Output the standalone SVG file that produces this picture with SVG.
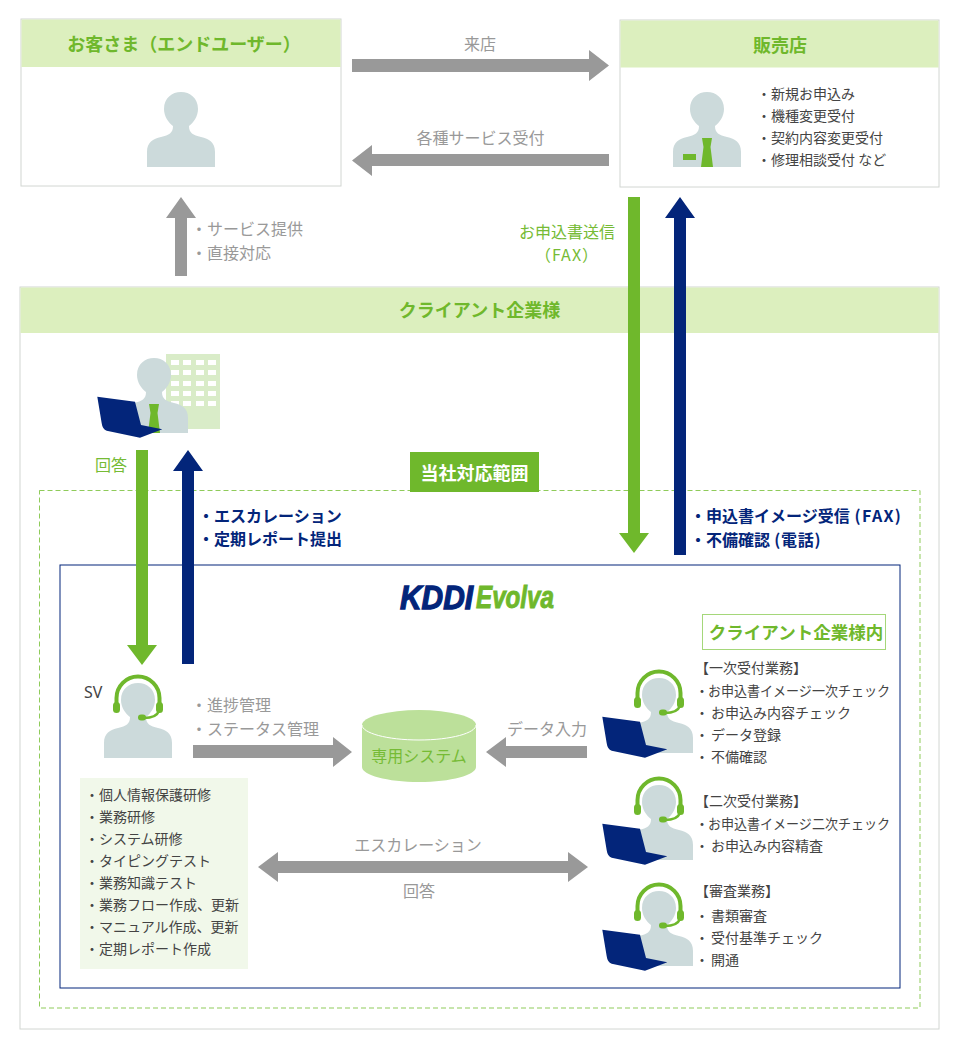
<svg xmlns="http://www.w3.org/2000/svg" width="960" height="1049" viewBox="0 0 960 1049">
<style>
text{font-family:"Noto Sans CJK JP","Noto Sans",sans-serif;dominant-baseline:central;font-size:14px;fill:#444;transform:translateY(-1px)}
.c{text-anchor:middle}
.h{font-size:18px;font-weight:700;fill:#6fb82c}
.l{font-size:16px;fill:#999}
.g{font-size:16px;fill:#76bb35}
.n{font-size:16px;font-weight:700;fill:#03257a}
.box{fill:#fff;stroke:#d2d6d2;stroke-width:1}
.head{fill:#dcefbe}
.gray{fill:#999}.green{fill:#6fb82c}.navy{fill:#03257a}
.body{fill:#ccdadb}
.hs{fill:none;stroke:#6fb82c;stroke-width:4}
</style>
<defs>
<path id="body" class="body" d="M-34 75V60C-34 50-28 47-20 45C-12 43-8 41-8 34C-13 30-17 24-17 17C-17 6-9 0 0 0C9 0 17 6 17 17C17 24 13 30 8 34C8 41 12 43 20 45C28 47 34 50 34 60V75Z"/>
<path id="tie" class="green" d="M-5 46H5L3.500 55L6 75H-6L-3.500 55Z"/>
<g id="headset">
<path class="hs" d="M-21.500 21V15A21.500 21.500 0 0 1 21.500 15V21"/>
<rect class="green" x="-25" y="19" width="7" height="11" rx="3.500"/>
<rect class="green" x="18" y="19" width="7" height="11" rx="3.500"/>
<path class="hs" style="stroke-width:2.500" d="M21 28C19 33 13 35 6 35"/>
<rect class="green" x="0" y="31.500" width="8" height="6" rx="3"/>
</g>
<path id="laptop" class="navy" d="M-56.700 38.700L-19 43.700L-13 67L8.300 71.300L-14 79.700L-47.300 72.700Q-51.500 71.500-52.300 65.300Z"/>
<g id="agent"><use href="#body"/><use href="#headset"/><use href="#laptop"/></g>
</defs>

<g id="customer">
<rect class="box" x="21" y="19" width="320" height="167"/>
<rect class="head" x="21.500" y="19.500" width="319" height="47.500"/>
<text class="h c" x="184" y="44">お客さま（エンドユーザー）</text>
<use href="#body" x="181" y="92"/>
</g>

<g id="store">
<rect class="box" x="620" y="20" width="319" height="167"/>
<rect class="head" x="620.500" y="20.500" width="318" height="47"/>
<text class="h c" x="780" y="45">販売店</text>
<use href="#body" x="707" y="92"/>
<use href="#tie" x="707" y="92"/>
<rect class="green" x="683" y="154" width="13" height="6"/>
<text x="757" y="94">・新規お申込み</text>
<text x="757" y="116">・機種変更受付</text>
<text x="757" y="138">・契約内容変更受付</text>
<text x="757" y="160">・修理相談受付 など</text>
</g>

<g id="client">
<rect class="box" x="20" y="287" width="919" height="742"/>
<rect class="head" x="20.500" y="287.500" width="918" height="45.500"/>
<text class="h c" x="479.500" y="310">クライアント企業様</text>
</g>

<g id="client-person">
<rect x="166" y="354" width="54" height="75" fill="#d9ecc8"/>
<path fill="#fff" d="M171 360h8v5h-8zM183 360h8v5h-8zM196 360h8v5h-8zM208 360h8v5h-8zM171 370h8v5h-8zM183 370h8v5h-8zM196 370h8v5h-8zM208 370h8v5h-8zM171 381h8v5h-8zM183 381h8v5h-8zM196 381h8v5h-8zM208 381h8v5h-8zM171 391h8v5h-8zM183 391h8v5h-8zM196 391h8v5h-8zM208 391h8v5h-8zM171 401h8v5h-8zM183 401h8v5h-8zM196 401h8v5h-8zM208 401h8v5h-8z"/>
<use href="#body" x="154" y="358"/>
<use href="#tie" x="154" y="358"/>
<use href="#laptop" x="154" y="358"/>
</g>

<g id="scope">
<rect x="39.500" y="490.500" width="880.500" height="517.500" fill="none" stroke="#8fcb5a" stroke-width="1" stroke-dasharray="5 3"/>
<rect class="green" x="410" y="452" width="129" height="40"/>
<text class="c" x="474.500" y="473" style="font-size:18px;font-weight:700;fill:#fff">当社対応範囲</text>
</g>

<g id="evolva">
<rect x="60" y="565" width="840" height="423" fill="none" stroke="#03257a" stroke-width="1"/>
<text x="400" y="598" textLength="73" lengthAdjust="spacingAndGlyphs" style="font-family:'Liberation Sans',sans-serif;font-size:33px;font-weight:700;font-style:italic;fill:#03257a;stroke:#03257a;stroke-width:1.300">KDDI</text>
<text x="476" y="598" textLength="78" lengthAdjust="spacingAndGlyphs" style="font-family:'Liberation Sans',sans-serif;font-size:32px;font-weight:700;font-style:italic;fill:#6fb82c;stroke:#6fb82c;stroke-width:1">Evolva</text>
</g>

<g id="sv">
<use href="#body" x="138" y="683"/>
<use href="#headset" x="138" y="683"/>
<text x="84" y="693" style="font-size:16px;font-family:'Noto Sans',sans-serif">SV</text>
</g>

<g id="training">
<rect x="80" y="778" width="168" height="191" fill="#f1f8ea"/>
<text x="85" y="795">・個人情報保護研修</text>
<text x="85" y="817">・業務研修</text>
<text x="85" y="839">・システム研修</text>
<text x="85" y="861">・タイピングテスト</text>
<text x="85" y="883">・業務知識テスト</text>
<text x="85" y="905">・業務フロー作成、更新</text>
<text x="85" y="927">・マニュアル作成、更新</text>
<text x="85" y="949">・定期レポート作成</text>
</g>

<g id="system">
<path d="M362 725V767C362 775 387 782 419 782C451 782 476 775 476 767V725Z" fill="#bce09a"/>
<ellipse cx="419" cy="725" rx="57" ry="15" fill="#bce09a"/>
<path d="M362 725C362 733 387 740 419 740C451 740 476 733 476 725" fill="none" stroke="#fff" stroke-width="1"/>
<text class="g c" x="419" y="756">専用システム</text>
</g>

<g id="inner-title">
<rect x="702.500" y="614.500" width="183" height="35" fill="#fff" stroke="#a5d77a" stroke-width="1"/>
<text class="c" x="796" y="632" style="font-size:17.500px;font-weight:700;fill:#6fb82c">クライアント企業様内</text>
</g>

<g id="agent1">
<use href="#agent" x="659" y="678"/>
<text x="695" y="668">【一次受付業務】</text>
<text y="691"><tspan x="695">・</tspan><tspan x="708" textLength="182" lengthAdjust="spacingAndGlyphs">お申込書イメージ一次チェック</tspan></text>
<text y="713"><tspan x="695">・</tspan><tspan x="711">お申込み内容チェック</tspan></text>
<text y="735"><tspan x="695">・</tspan><tspan x="711">データ登録</tspan></text>
<text y="757"><tspan x="695">・</tspan><tspan x="711">不備確認</tspan></text>
</g>
<g id="agent2">
<use href="#agent" x="659" y="785"/>
<text x="695" y="801">【二次受付業務】</text>
<text y="824"><tspan x="695">・</tspan><tspan x="708" textLength="182" lengthAdjust="spacingAndGlyphs">お申込書イメージ二次チェック</tspan></text>
<text y="846"><tspan x="695">・</tspan><tspan x="711">お申込み内容精査</tspan></text>
</g>
<g id="agent3">
<use href="#agent" x="659" y="891"/>
<text x="695" y="891">【審査業務】</text>
<text y="916"><tspan x="695">・</tspan><tspan x="711">書類審査</tspan></text>
<text y="938"><tspan x="695">・</tspan><tspan x="711">受付基準チェック</tspan></text>
<text y="960"><tspan x="695">・</tspan><tspan x="711">開通</tspan></text>
</g>

<g id="connectors">
<path class="gray" d="M352 59H589V50L609 65.500L589 81V72H352Z"/>
<path class="gray" d="M609 154H372V145L352 160.500L372 176V166H609Z"/>
<path class="gray" d="M175 276V218H166L181 197L196 218H187V276Z"/>
<path class="green" d="M628 197H640V533H649L634 553L619 533H628Z"/>
<path class="navy" d="M674 555V218H665L680 197L695 218H686V555Z"/>
<path class="green" d="M136 450H148V645H157L142 665L127 645H136Z"/>
<path class="navy" d="M182 664V471H173L188 450L203 471H194V664Z"/>
<path class="gray" d="M193 745H333V737L352 752L333 767V758H193Z"/>
<path class="gray" d="M587 746H506V737L486 752L506 767V758H587Z"/>
<path class="gray" d="M258 867L278 852V861H568V852L588 867L568 882V873H278V882Z"/>
</g>

<g id="connector-labels">
<text class="l c" x="480" y="44">来店</text>
<text class="l c" x="480.500" y="138">各種サービス受付</text>
<text class="l" x="191" y="229">・サービス提供</text>
<text class="l" x="191" y="253">・直接対応</text>
<text class="g c" x="567" y="232">お申込書送信</text>
<text class="g c" x="567" y="255" style="letter-spacing:1px">（FAX）</text>
<text class="g" x="95" y="465">回答</text>
<text class="n" x="198" y="516">・エスカレーション</text>
<text class="n" x="198" y="539">・定期レポート提出</text>
<text class="n" x="690" y="516">・申込書イメージ受信<tspan style="letter-spacing:1.300px"> (FAX)</tspan></text>
<text class="n" x="690" y="540">・不備確認<tspan style="letter-spacing:.700px"> (電話)</tspan></text>
<text class="l" x="191" y="705">・進捗管理</text>
<text class="l" x="191" y="729">・ステータス管理</text>
<text class="l" x="507" y="729">データ入力</text>
<text class="l c" x="418" y="845">エスカレーション</text>
<text class="l c" x="419" y="891">回答</text>
</g>
</svg>
